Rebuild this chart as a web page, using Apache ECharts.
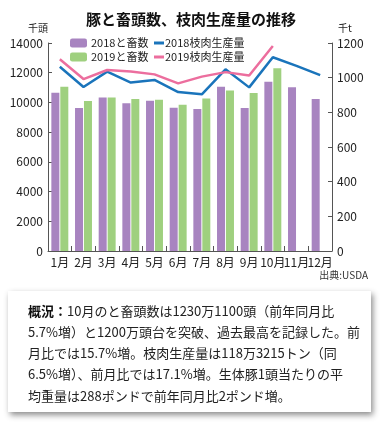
<!DOCTYPE html>
<html><head><meta charset="utf-8">
<script src="https://cdn.jsdelivr.net/npm/echarts@6/dist/echarts.min.js"></script>
<style>html,body{margin:0;padding:0;background:#fff}#c{width:382px;height:429px}</style>
</head><body><div id="c"></div>
<script>
const months = ['1月','2月','3月','4月','5月','6月','7月','8月','9月','10月','11月','12月'];
const heads2018 = [10650, 9620, 10340, 9940, 10110, 9650, 9560, 11060, 9620, 11400, 11020, 10230];
const heads2019 = [11060, 10090, 10340, 10230, 10180, 9850, 10270, 10810, 10640, 12301, null, null];
const meat2018 = [1063, 946, 1035, 972, 987, 917, 904, 1048, 944, 1118, 1068, 1015];
const meat2019 = [1106, 992, 1044, 1035, 1019, 967, 1006, 1032, 1012, 1183, null, null];
const leftTicks = [0, 2000, 4000, 6000, 8000, 10000, 12000, 14000];
const rightTicks = [0, 200, 400, 600, 800, 1000, 1200];
const names = ['2018と畜数', '2019と畜数', '2018枝肉生産量', '2019枝肉生産量'];
const note = '{b|概況：}10月のと畜頭数は1230万1100頭（前年同月比\n5.7%増）と1200万頭台を突破、過去最高を記録した。前\n月比では15.7%増。枝肉生産量は118万3215トン（同\n6.5%増）、前月比では17.1%増。生体豚1頭当たりの平\n均重量は288ポンドで前年同月比2ポンド増。';

const FONT = '"Noto Sans CJK JP", "Noto Sans", sans-serif';
const colors = {h18:'#a884c0', h19:'#9fd07f', m18:'#1a74bb', m19:'#ec6e9e'};
const chart = echarts.init(document.getElementById('c'), null, {renderer:'canvas'});
const axisLine = {show:true, lineStyle:{color:'#555', width:1}};
const plain = v => String(v);
chart.setOption({
  animation:false,
  textStyle:{fontFamily:FONT},
  title:{text:'豚と畜頭数、枝肉生産量の推移', left:'center', top:7,
    textStyle:{fontSize:15, fontWeight:'bold', color:'#111', fontFamily:FONT}},
  legend:[
    {data:[names[0], names[1]], orient:'vertical', left:70, top:37, padding:0, itemWidth:17, itemHeight:9, itemGap:2,
     textStyle:{fontSize:11, lineHeight:12, color:'#222', padding:[0,0,0,-1]}},
    {data:[{name:names[2], icon:'rect'}, {name:names[3], icon:'rect'}], orient:'vertical', left:154, top:37, padding:0, itemWidth:10, itemHeight:3, itemGap:2,
     textStyle:{fontSize:11, lineHeight:12, color:'#222', padding:[0,0,0,-4]}}
  ],
  grid:{left:48, right:50, top:43, bottom:178},
  xAxis:{type:'category', data:months, axisLine:axisLine,
    axisTick:{show:true, inside:true, length:5, lineStyle:{color:'#555'}},
    axisLabel:{fontSize:12, color:'#222', margin:5, interval:0}},
  yAxis:[
    {type:'value', min:leftTicks[0], max:leftTicks[leftTicks.length-1], interval:2000,
     name:'千頭', nameLocation:'end', nameGap:10, nameTextStyle:{fontSize:10, color:'#222', align:'right', padding:[0,0,0,0]},
     axisLine:axisLine, axisTick:{show:true, inside:true, length:4, lineStyle:{color:'#555'}},
     splitLine:{show:false}, axisLabel:{fontSize:12, color:'#222', margin:5, formatter:plain}},
    {type:'value', min:rightTicks[0], max:rightTicks[rightTicks.length-1], interval:200,
     name:'千t', nameLocation:'end', nameGap:10, nameTextStyle:{fontSize:10, color:'#222', align:'left', padding:[0,0,0,6]},
     axisLine:axisLine, axisTick:{show:true, inside:true, length:4, lineStyle:{color:'#555'}},
     splitLine:{show:false}, axisLabel:{fontSize:12, color:'#222', margin:5, formatter:plain}}
  ],
  series:[
    {name:names[0], type:'bar', data:heads2018, barWidth:8, barGap:'12%', itemStyle:{color:colors.h18}},
    {name:names[1], type:'bar', data:heads2019, barWidth:8, barGap:'12%', itemStyle:{color:colors.h19}},
    {name:names[2], type:'line', yAxisIndex:1, data:meat2018, symbol:'none', lineStyle:{width:2.5, color:colors.m18}, itemStyle:{color:colors.m18}},
    {name:names[3], type:'line', yAxisIndex:1, data:meat2019, symbol:'none', lineStyle:{width:2.5, color:colors.m19}, itemStyle:{color:colors.m19}}
  ],
  graphic:[
    {type:'text', right:14, top:270, style:{text:'出典:USDA', fontSize:10, fill:'#333', fontFamily:FONT}},
    {type:'rect', left:8, top:291, shape:{width:363, height:121},
     style:{fill:'#fff', shadowBlur:6, shadowColor:'rgba(0,0,0,0.45)', shadowOffsetX:2, shadowOffsetY:3}},
    {type:'text', left:28, top:300, style:{text:note, fontSize:13, lineHeight:21.3, fill:'#222', fontFamily:FONT,
      rich:{b:{fontWeight:'bold', fontSize:13, fill:'#111', fontFamily:FONT, lineHeight:21.3}}}}
  ]
});
</script></body></html>
